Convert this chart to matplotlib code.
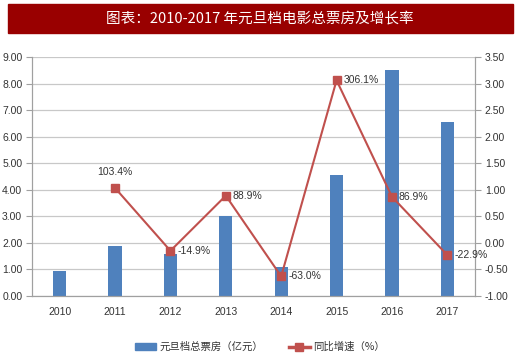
import matplotlib
matplotlib.use("Agg")
import matplotlib.pyplot as plt
import matplotlib.patches as mpatches
from matplotlib import font_manager

years = ["2010", "2011", "2012", "2013", "2014", "2015", "2016", "2017"]
box_office = [0.93, 1.87, 1.60, 3.00, 1.10, 4.55, 8.50, 6.55]
growth_pct = [None, 103.4, -14.9, 88.9, -63.0, 306.1, 86.9, -22.9]
left_ticks = [0, 1, 2, 3, 4, 5, 6, 7, 8, 9]
right_ticks = [-1.0, -0.5, 0.0, 0.5, 1.0, 1.5, 2.0, 2.5, 3.0, 3.5]

names = {f.name for f in font_manager.fontManager.ttflist}
narrow = "Liberation Sans Narrow" if "Liberation Sans Narrow" in names else "Liberation Sans"
fam = [narrow, "Noto Sans CJK SC", "DejaVu Sans"]
cjk = ["Noto Sans CJK SC", "DejaVu Sans"]
plt.rcParams["font.family"] = fam

fig = plt.figure(figsize=(5.2, 3.6), dpi=100)
ax = fig.add_axes([32/520, 1-296/360, (475-32)/520, (296-57)/360])
ax2 = ax.twinx()

x = list(range(len(years)))
bar_c = "#4F81BD"
line_c = "#C0504D"
ax.bar(x, box_office, width=0.24, color=bar_c, zorder=2)
ax.set_ylim(0, 9)
ax.set_yticks(left_ticks)
ax.set_yticklabels([f"{v:.2f}" for v in left_ticks], fontsize=7.5, color="#333333")
ax.set_xlim(-0.5, len(years) - 0.5)
ax.set_xticks(x)
ax.set_xticklabels(years, fontsize=7.5, color="#333333")
ax.grid(axis="y", color="#C8C8C8", linewidth=0.9, zorder=0)
ax.set_axisbelow(True)
ax.tick_params(axis="x", length=0, pad=8)
ax.tick_params(axis="y", length=4, color="#A0A0A0", pad=3)

gx = [i for i, g in enumerate(growth_pct) if g is not None]
gy = [growth_pct[i] / 100 for i in gx]
ax2.plot(gx, gy, color=line_c, linewidth=1.5, marker="s", markersize=6,
         markerfacecolor=line_c, markeredgecolor=line_c, zorder=3)
ax2.set_ylim(-1.0, 3.5)
ax2.set_yticks(right_ticks)
ax2.set_yticklabels([f"{v:.2f}" for v in right_ticks], fontsize=7.5, color="#333333")
ax2.tick_params(axis="y", length=4, color="#A0A0A0", pad=3)

for i, y in zip(gx, gy):
    txt = f"{growth_pct[i]:.1f}%"
    if i == 1:
        ax2.annotate(txt, (i, y), xytext=(0, 8), textcoords="offset points",
                     ha="center", va="bottom", fontsize=7.5, color="#333333")
    else:
        ax2.annotate(txt, (i, y), xytext=(5, 0), textcoords="offset points",
                     ha="left", va="center", fontsize=7.5, color="#333333")

for a in (ax, ax2):
    for s in a.spines.values():
        s.set_color("#A0A0A0")
        s.set_linewidth(0.8)
    a.spines["top"].set_visible(False)

# Title banner
fig.patches.append(mpatches.Rectangle((8/520, 1-33/360), 505/520, 29/360,
                                      transform=fig.transFigure, color="#990000", zorder=0))
fig.text(0.5, 1-18.5/360, "图表：2010-2017 年元旦档电影总票房及增长率", ha="center", va="center",
         color="white", fontsize=10.5, family=cjk)

handles = [mpatches.Patch(color=bar_c),
           plt.Line2D([], [], color=line_c, linewidth=2.5, marker="s", markersize=6)]
leg = fig.legend(handles, ["元旦档总票房（亿元）", "同比增速（%）"], loc="center",
                 bbox_to_anchor=(0.5, 1-347/360), ncol=2, frameon=False,
                 prop={"family": cjk, "size": 7.5}, handlelength=2.0, columnspacing=2.5,
                 handletextpad=0.3)
for t in leg.get_texts():
    t.set_color("#333333")

fig.savefig("out.png", dpi=100)
